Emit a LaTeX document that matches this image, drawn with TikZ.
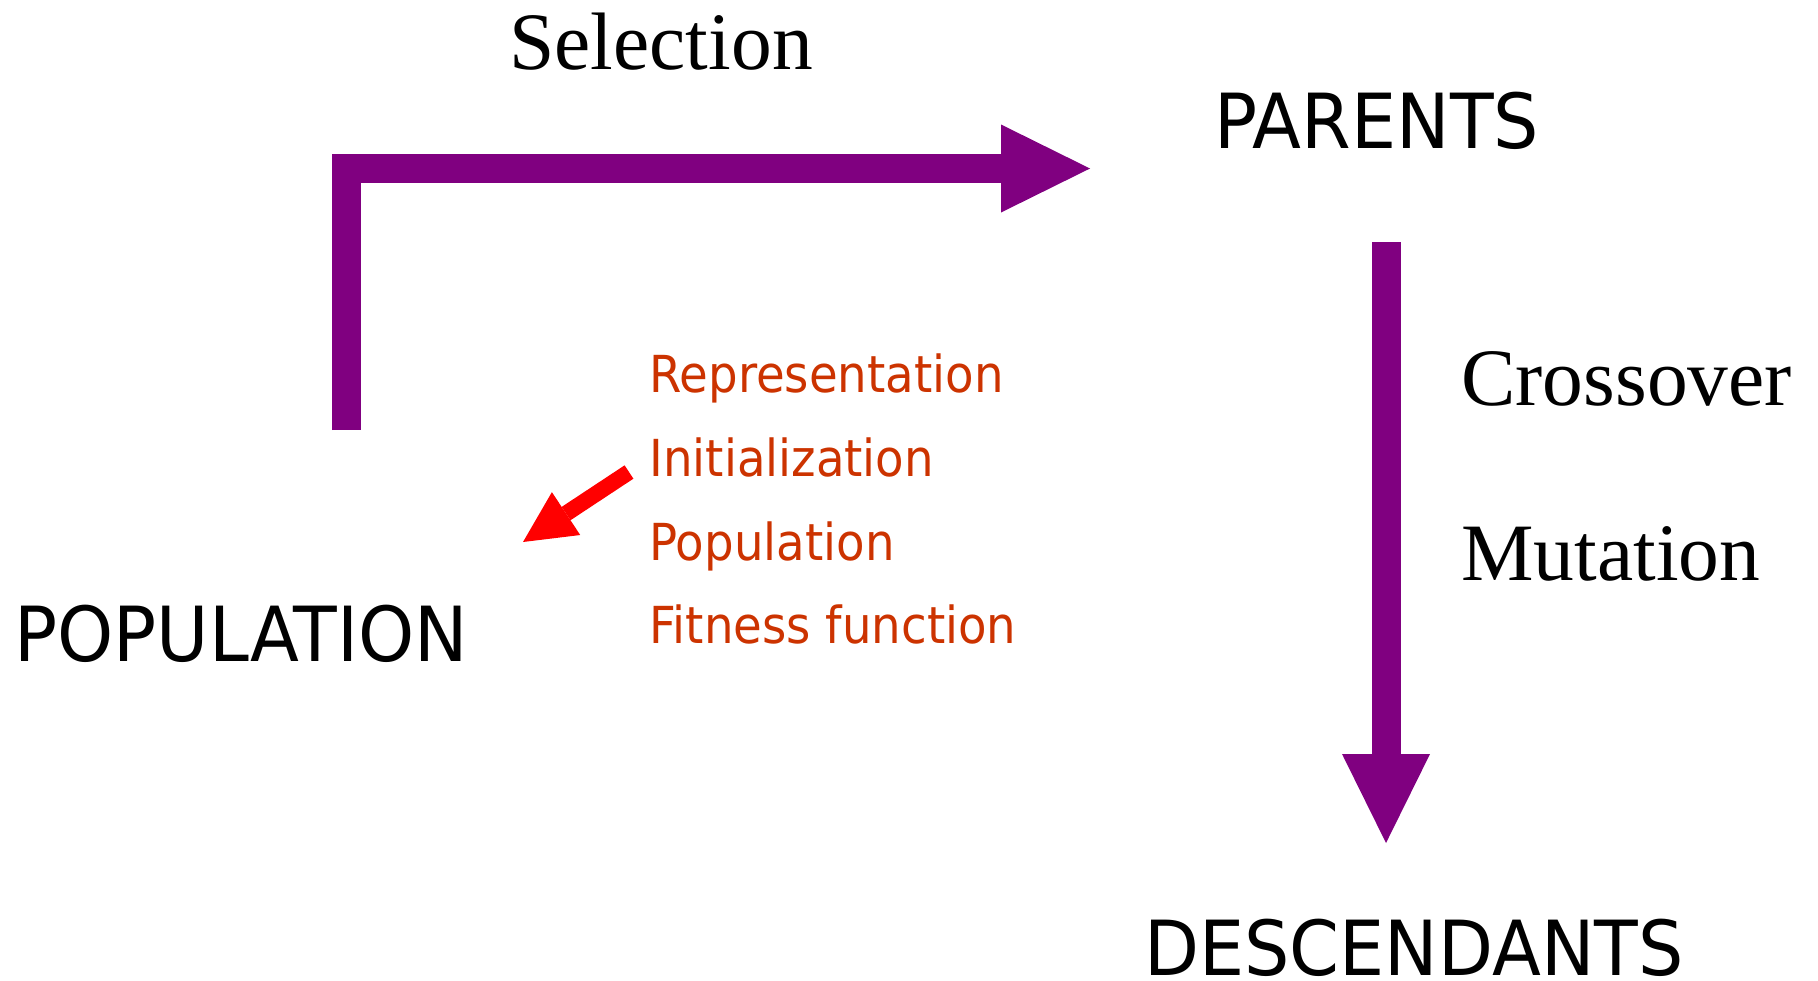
\documentclass[tikz,border=0pt]{standalone}
\usepackage{fontspec}
\usetikzlibrary{arrows.meta}
\setmainfont{Liberation Serif}
\newfontfamily\stagefont[FakeStretch=0.94]{DejaVu Sans}
\newfontfamily\setupfont[FakeStretch=0.915]{DejaVu Sans}
\definecolor{gapurple}{HTML}{800080}
\definecolor{setuporange}{HTML}{CC3300}
\tikzset{
  stage/.style={anchor=base west,inner sep=0pt,font=\stagefont\fontsize{38}{40}\selectfont},
  operator/.style={anchor=base west,inner sep=0pt,font=\fontsize{40.75}{42}\selectfont},
  setup/.style={anchor=base west,inner sep=0pt,text=setuporange,font=\setupfont\fontsize{25.5}{27}\selectfont},
  flow/.style={draw=gapurple,line width=14.5pt,
    -{Triangle[length=44.5pt,width=44pt,line width=0pt]}},
  hint/.style={draw=red,line width=8pt,
    -{Triangle[length=25.8pt,width=25.7pt,line width=0pt]}}
}
\begin{document}
\begin{tikzpicture}[x=0.5pt,y=-0.5pt]
      \useasboundingbox (0,0) rectangle (1818,980);
      \draw
        (509,69) node[operator] (sel){Selection}
        (1214,148) node[stage] (parents){PARENTS}
        (14,661) node[stage] (population){POPULATION}
        (1144,975) node[stage] (descendants){DESCENDANTS}
        (1461,405) node[operator] (cross){Crossover}
        (1461,580) node[operator] (mut){Mutation}
        (649,392) node[setup] (repr){Representation}
        (649,476) node[setup] (init){Initialization}
        (649,560) node[setup] (popstep){Population}
        (649,643) node[setup] (fit){Fitness function};
      \coordinate (selfrom) at (346,430);
      \coordinate (selto) at (1090,168.5);
      \coordinate (varfrom) at (1386,242);
      \coordinate (varto) at (1386,843);
      \coordinate (hintfrom) at (629,472);
      \coordinate (hintto) at (523,542);
      \begin{scope}[line cap=butt]
        \draw[flow] (selfrom) |- (selto);
        \draw[flow] (varfrom) to (varto);
        \draw[hint] (hintfrom) to (hintto);
      \end{scope}
    \end{tikzpicture}
\end{document}
